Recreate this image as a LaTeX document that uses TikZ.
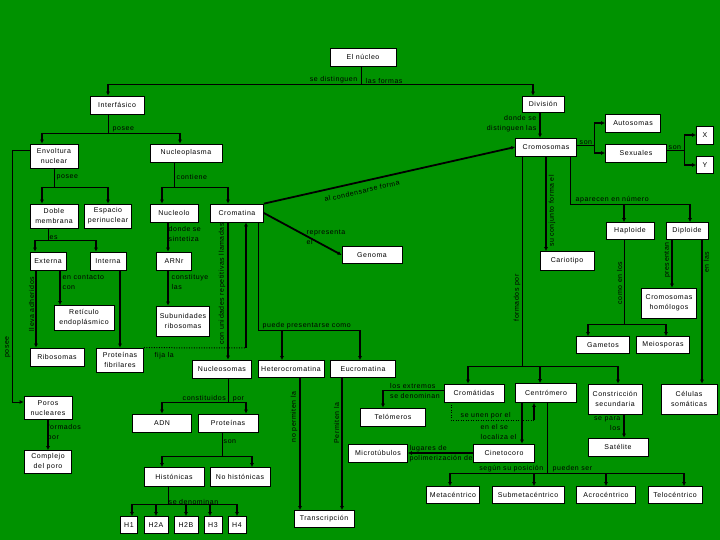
\documentclass[tikz,border=0pt]{standalone}
\usepackage{fontspec}
\setmainfont{Liberation Sans}[LetterSpace=8]
\usepackage{xcolor}
\usepackage{tikz}
\usetikzlibrary{arrows.meta}

\definecolor{fondo}{RGB}{0,146,0}
\tikzset{
  caja/.style={draw=black, fill=white, line width=0.7pt, align=center, inner sep=1pt, font=\fontsize{7}{10}\selectfont},
  tam/.style 2 args={minimum width=#1pt, minimum height=#2pt},
  etiq/.style={inner sep=0.5pt, align=left, font=\fontsize{7}{10}\selectfont},
  linea/.style={line width=0.8pt},
  flecha/.style={line width=1.8pt, -{Latex[length=4pt,width=4pt]}},
  punteado/.style={line width=1pt, dash pattern=on 1pt off 1.5pt},
}

\begin{document}
\begin{tikzpicture}[x=1pt, y=-1pt]
            \fill[fondo] (0,0) rectangle (720,540);
            \useasboundingbox (0,0) rectangle (720,540);

            % Interfase
            \node[caja, tam={66}{18}] (nucleo) at (363,57) {El núcleo};
            \node[caja, tam={54}{18}] (interf) at (117,105) {Interfásico};
            \node[caja, tam={48}{24}] (envol) at (54,156) {Envoltura\\nuclear};
            \node[caja, tam={72}{18}] (nucpl) at (186,153) {Nucleoplasma};
            \node[caja, tam={48}{24}] (doble) at (54,216) {Doble\\membrana};
            \node[caja, tam={47}{24}] (espac) at (108,216) {Espacio\\perinuclear};
            \node[caja, tam={36}{18}] (exter) at (48,261) {Externa};
            \node[caja, tam={36}{18}] (inter) at (108,261) {Interna};
            \node[caja, tam={60}{25}] (retic) at (84,318) {Retículo\\endoplásmico};
            \node[caja, tam={54}{18}] (ribos) at (57,357) {Ribosomas};
            \node[caja, tam={47}{24}] (protf) at (120,360) {Proteínas\\fibrilares};
            \node[caja, tam={48}{23}] (poros) at (48,408) {Poros\\nucleares};
            \node[caja, tam={47}{23}] (compl) at (48,462) {Complejo\\del poro};
            \node[caja, tam={48}{18}] (nucleolo) at (174,213) {Nucleolo};
            \node[caja, tam={53}{18}] (cromat) at (237,213) {Cromatina};
            \node[caja, tam={35}{18}] (arnr) at (174,261) {ARNr};
            \node[caja, tam={53}{30}] (subun) at (183,321) {Subunidades\\ribosomas};
            \node[caja, tam={59}{18}] (nucleos) at (222,369) {Nucleosomas};
            \node[caja, tam={66}{17}] (hetero) at (291,369) {Heterocromatina};
            \node[caja, tam={65}{17}] (eucro) at (363,369) {Eucromatina};
            \node[caja, tam={59}{18}] (adn) at (162,423) {ADN};
            \node[caja, tam={60}{18}] (protn) at (228,423) {Proteínas};
            \node[caja, tam={60}{19}] (histo) at (174,477) {Histónicas};
            \node[caja, tam={60}{19}] (nohis) at (240,477) {No histónicas};
            \node[caja, tam={17}{17}] (hUno) at (129,525) {H1};
            \node[caja, tam={24}{17}] (hDosA) at (156,525) {H2A};
            \node[caja, tam={24}{17}] (hDosB) at (186,525) {H2B};
            \node[caja, tam={18}{17}] (hTres) at (213,525) {H3};
            \node[caja, tam={18}{17}] (hCuatro) at (237,525) {H4};
            \node[caja, tam={60}{17}] (transc) at (324,519) {Transcripción};
            \node[caja, tam={60}{17}] (genoma) at (372,255) {Genoma};

            % Division
            \node[caja, tam={42}{16}] (divis) at (543,104) {División};
            \node[caja, tam={61}{18}] (cromos) at (546,147) {Cromosomas};
            \node[caja, tam={55}{18}] (autos) at (633,123) {Autosomas};
            \node[caja, tam={61}{18}] (sexua) at (636,153) {Sexuales};
            \node[caja, tam={17}{18}] (xcr) at (705,135) {X};
            \node[caja, tam={17}{17}] (ycr) at (705,165) {Y};
            \node[caja, tam={54}{19}] (cario) at (567,261) {Cariotipo};
            \node[caja, tam={48}{17}] (haplo) at (630,231) {Haploide};
            \node[caja, tam={42}{17}] (diplo) at (687,231) {Diploide};
            \node[caja, tam={53}{17}] (gamet) at (603,345) {Gametos};
            \node[caja, tam={53}{17}] (meios) at (663,345) {Meiosporas};
            \node[caja, tam={55}{30}] (homol) at (669,303) {Cromosomas\\homólogos};
            \node[caja, tam={60}{18}] (cromd) at (474,393) {Cromátidas};
            \node[caja, tam={61}{19}] (centr) at (546,393) {Centrómero};
            \node[caja, tam={54}{30}] (const) at (615,399) {Constricción\\secundaria};
            \node[caja, tam={56}{30}] (celul) at (689,399) {Células\\somáticas};
            \node[caja, tam={60}{18}] (satel) at (618,447) {Satélite};
            \node[caja, tam={65}{18}] (telom) at (393,417) {Telómeros};
            \node[caja, tam={59}{18}] (micro) at (378,453) {Microtúbulos};
            \node[caja, tam={61}{18}] (cinet) at (504,453) {Cinetocoro};
            \node[caja, tam={53}{17}] (meta) at (453,495) {Metacéntrico};
            \node[caja, tam={72}{17}] (subme) at (528,495) {Submetacéntrico};
            \node[caja, tam={59}{17}] (acro) at (606,495) {Acrocéntrico};
            \node[caja, tam={54}{17}] (telo) at (675,495) {Telocéntrico};

            % El nucleo -> formas
            \coordinate (cNuc) at (361,84);
            \coordinate (cInt) at (108,84);
            \coordinate (cDiv) at (533,84);
            \draw[linea] (cNuc |- nucleo.south) -- (cNuc);
            \draw[linea] (cInt) -- (cDiv);
            \draw[flecha] (cInt) -- (cInt |- interf.north);
            \draw[flecha] (cDiv) -- (cDiv |- divis.north);
            \node[etiq, anchor=south east] (lDist) at (358,84) {se distinguen};
            \node[etiq, anchor=south west] (lFor) at (365,84) {las formas};

            % Interfasico posee
            \coordinate (cPos) at (108,133);
            \coordinate (cEnv) at (42,133);
            \coordinate (cNpl) at (180,133);
            \draw[linea] (cPos |- interf.south) -- (cPos);
            \draw[linea] (cEnv) -- (cNpl);
            \draw[flecha] (cEnv) -- (cEnv |- envol.north);
            \draw[flecha] (cNpl) -- (cNpl |- nucpl.north);
            \node[etiq, anchor=south west] (lPos1) at (112,133) {posee};

            % Envoltura nuclear
            \coordinate (cEnv2) at (54,187);
            \coordinate (cDob) at (42,187);
            \coordinate (cEsp) at (108,187);
            \draw[linea] (cEnv2 |- envol.south) -- (cEnv2);
            \draw[linea] (cDob) -- (cEsp);
            \draw[flecha] (cDob) -- (cDob |- doble.north);
            \draw[flecha] (cEsp) -- (cEsp |- espac.north);
            \node[etiq, anchor=west] (lPos2) at (56,177) {posee};

            % poros
            \coordinate (cPo1) at (12,150);
            \coordinate (cPo2) at (12,402);
            \draw[linea, -{Latex[length=4pt,width=4pt]}] (cPo1 -| envol.west) -- (cPo1) -- (cPo2) -- (cPo2 -| poros.west);
            \node[etiq, rotate=90, anchor=south] (lPos3) at (11,347) {posee};
            \coordinate (cCom) at (48,420);
            \draw[flecha] (cCom |- poros.south) -- (cCom |- compl.north);
            \node[etiq, anchor=north west] (lForm1) at (47,424) {formados\\por};

            % Doble membrana
            \coordinate (cDob2) at (48,240);
            \coordinate (cExt) at (35,240);
            \coordinate (cInn) at (96,240);
            \draw[linea] (cDob2 |- doble.south) -- (cDob2);
            \draw[linea] (cExt) -- (cInn);
            \draw[flecha] (cExt) -- (cExt |- exter.north);
            \draw[flecha] (cInn) -- (cInn |- inter.north);
            \node[etiq, anchor=south west] (lEs) at (49,240) {es};

            % Externa e Interna
            \coordinate (cRib) at (36,270);
            \coordinate (cRet) at (60,270);
            \coordinate (cFib) at (120,270);
            \draw[flecha] (cRib |- exter.south) -- (cRib |- ribos.north);
            \draw[flecha] (cRet |- exter.south) -- (cRet |- retic.north);
            \draw[flecha] (cFib |- inter.south) -- (cFib |- protf.north);
            \node[etiq, rotate=90, anchor=south] (lAdh) at (35,304) {lleva adheridos};
            \node[etiq, anchor=north west] (lCont2) at (62,274) {en contacto\\con};

            % Nucleoplasma contiene
            \coordinate (cNpl2) at (174,187);
            \coordinate (cNcl) at (162,187);
            \coordinate (cCrm) at (228,187);
            \draw[linea] (cNpl2 |- nucpl.south) -- (cNpl2);
            \draw[linea] (cNcl) -- (cCrm);
            \draw[flecha] (cNcl) -- (cNcl |- nucleolo.north);
            \draw[flecha] (cCrm) -- (cCrm |- cromat.north);
            \node[etiq, anchor=west] (lCont) at (176,177) {contiene};

            % Nucleolo
            \coordinate (cArn) at (168,222);
            \draw[flecha] (cArn |- nucleolo.south) -- (cArn |- arnr.north);
            \draw[flecha] (cArn |- arnr.south) -- (cArn |- subun.north);
            \node[etiq, anchor=north west] (lSint) at (168,226) {donde se\\sintetiza};
            \node[etiq, anchor=north west] (lCons) at (171,274) {constituye\\las};

            % Cromatina
            \coordinate (cNsm) at (228,222);
            \draw[flecha] (cNsm |- cromat.south) -- (cNsm |- nucleos.north);
            \node[etiq, rotate=90, anchor=south] (lUnid) at (226,284) {con unidades repetitivas llamadas};
            \coordinate (cFij) at (246,348);
            \draw[punteado] (protf.north east) -- (cFij);
            \draw[flecha] (cFij) -- (cFij |- cromat.south);
            \node[etiq, anchor=west] (lFija) at (154,356) {fija la};
            \coordinate (cPre) at (258,330);
            \coordinate (cHet) at (282,330);
            \coordinate (cEuc) at (360,330);
            \draw[linea] (cPre |- cromat.south) -- (cPre) -- (cEuc);
            \draw[flecha] (cHet) -- (cHet |- hetero.north);
            \draw[flecha] (cEuc) -- (cEuc |- eucro.north);
            \node[etiq, anchor=south west] (lPres) at (262,330) {puede presentarse como};
            \draw[flecha] (cromat.east) -- (genoma.west);
            \node[etiq, anchor=north west] (lRepr) at (306,229) {representa\\el};
            \draw[flecha] (cromat.north east) -- (cromos.west);
            \node[etiq, rotate=12.7] (lCond) at (362,191) {al condensarse forma};

            % Hetero y eucromatina
            \coordinate (cTrH) at (300,378);
            \coordinate (cTrE) at (342,378);
            \draw[flecha] (cTrH |- hetero.south) -- (cTrH |- transc.north);
            \draw[flecha] (cTrE |- eucro.south) -- (cTrE |- transc.north);
            \node[etiq, rotate=90, anchor=south] (lNoPer) at (298,417) {no permiten la};
            \node[etiq, rotate=90, anchor=south] (lPerm) at (340,423) {Permiten la};

            % Nucleosomas
            \coordinate (cNuc2) at (228,402);
            \coordinate (cAdn) at (162,402);
            \coordinate (cPrt) at (246,402);
            \draw[linea] (cNuc2 |- nucleos.south) -- (cNuc2);
            \draw[linea] (cAdn) -- (cPrt);
            \draw[flecha] (cAdn) -- (cAdn |- adn.north);
            \draw[flecha] (cPrt) -- (cPrt |- protn.north);
            \node[etiq, anchor=south west] (lConst) at (182,403) {constituidos\quad por};

            % Proteinas son
            \coordinate (cPrt2) at (222,456);
            \coordinate (cHis) at (162,456);
            \coordinate (cNoh) at (252,456);
            \draw[linea] (cPrt2 |- protn.south) -- (cPrt2);
            \draw[linea] (cHis) -- (cNoh);
            \draw[flecha] (cHis) -- (cHis |- histo.north);
            \draw[flecha] (cNoh) -- (cNoh |- nohis.north);
            \node[etiq, anchor=west] (lSon3) at (223,442) {son};

            % Histonicas
            \coordinate (cHis2) at (168,504);
            \coordinate (cHa) at (132,504);
            \coordinate (cHb) at (156,504);
            \coordinate (cHc) at (186,504);
            \coordinate (cHd) at (210,504);
            \coordinate (cHe) at (237,504);
            \draw[linea] (cHis2 |- histo.south) -- (cHis2);
            \draw[linea] (cHa) -- (cHe);
            \draw[flecha] (cHa) -- (cHa |- hUno.north);
            \draw[flecha] (cHb) -- (cHb |- hDosA.north);
            \draw[flecha] (cHc) -- (cHc |- hDosB.north);
            \draw[flecha] (cHd) -- (cHd |- hTres.north);
            \draw[flecha] (cHe) -- (cHe |- hCuatro.north);
            \node[etiq, anchor=south west] (lDenom) at (168,505) {se denominan};

            % Division -> cromosomas
            \coordinate (cCro) at (540,112);
            \draw[flecha] (cCro |- divis.south) -- (cCro |- cromos.north);
            \node[etiq, anchor=north east, align=right] (lDonde) at (537,115) {donde se\\distinguen las};

            % Cromosomas son
            \coordinate (cSon) at (594,145);
            \coordinate (cAut) at (594,123);
            \coordinate (cSex) at (594,153);
            \draw[linea] (cSon -| cromos.east) -- (cSon);
            \draw[linea] (cAut) -- (cSex);
            \draw[flecha] (cAut) -- (autos.west);
            \draw[flecha] (cSex) -- (sexua.west);
            \node[etiq, anchor=south west] (lSon1) at (579,145) {son};
            \coordinate (cSon2) at (684,150);
            \coordinate (cX) at (684,135);
            \coordinate (cY) at (684,165);
            \draw[linea] (cSon2 -| sexua.east) -- (cSon2);
            \draw[linea] (cX) -- (cY);
            \draw[flecha] (cX) -- (xcr.west);
            \draw[flecha] (cY) -- (ycr.west);
            \node[etiq, anchor=south west] (lSon2) at (668,150) {son};

            % Cariotipo
            \coordinate (cCar) at (546,156);
            \draw[flecha] (cCar |- cromos.south) -- (cCar |- cario.north);
            \node[etiq, rotate=90, anchor=north] (lConj) at (548,211) {su conjunto forma el};

            % Numero
            \coordinate (cNum) at (570,204);
            \coordinate (cHap) at (624,204);
            \coordinate (cDip) at (690,204);
            \draw[linea] (cNum |- cromos.south) -- (cNum) -- (cDip);
            \draw[flecha] (cHap) -- (cHap |- haplo.north);
            \draw[flecha] (cDip) -- (cDip |- diplo.north);
            \node[etiq, anchor=south west] (lApar) at (575,204) {aparecen en número};

            % Haploide y diploide
            \coordinate (cHap2) at (624,324);
            \coordinate (cGam) at (588,324);
            \coordinate (cMei) at (666,324);
            \draw[linea] (cHap2 |- haplo.south) -- (cHap2);
            \draw[linea] (cGam) -- (cMei);
            \draw[flecha] (cGam) -- (cGam |- gamet.north);
            \draw[flecha] (cMei) -- (cMei |- meios.north);
            \node[etiq, rotate=90, anchor=south] (lComo) at (623,283) {como en los};
            \coordinate (cHom) at (672,240);
            \coordinate (cCel) at (702,240);
            \draw[flecha] (cHom |- diplo.south) -- (cHom |- homol.north);
            \draw[flecha] (cCel |- diplo.south) -- (cCel |- celul.north);
            \node[etiq, rotate=90, anchor=south] (lPresen) at (671,260) {presentan};
            \node[etiq, rotate=90, anchor=north] (lEnlas) at (703,262) {en las};

            % Formados por
            \coordinate (cFor) at (522,366);
            \coordinate (cCtd) at (468,366);
            \coordinate (cCen) at (540,366);
            \coordinate (cCst) at (618,366);
            \draw[linea] (cFor |- cromos.south) -- (cFor);
            \draw[linea] (cCtd) -- (cCst);
            \draw[flecha] (cCtd) -- (cCtd |- cromd.north);
            \draw[flecha] (cCen) -- (cCen |- centr.north);
            \draw[flecha] (cCst) -- (cCst |- const.north);
            \node[etiq, rotate=90, anchor=south] (lForm2) at (521,298) {formados por};

            % Constriccion
            \coordinate (cSat) at (624,414);
            \draw[flecha] (cSat |- const.south) -- (cSat |- satel.north);
            \node[etiq, anchor=north east, align=right] (lSepara) at (621,416) {se para\\los};

            % Cromatidas
            \coordinate (cExtr) at (383,390);
            \draw[linea] (cExtr -| cromd.west) -- (cExtr);
            \draw[flecha] (cExtr) -- (cExtr |- telom.north);
            \node[etiq] (lExtr) at (415,391) {los extremos\\se denominan};
            \coordinate (cUn1) at (451,420);
            \coordinate (cUn2) at (534,420);
            \draw[punteado] (cUn1 |- cromd.south) -- (cUn1) -- (cUn2);
            \draw[flecha] (cUn2) -- (cUn2 |- centr.south);
            \node[etiq, anchor=south west] (lUnen) at (460,420) {se unen por el};

            % Centromero
            \coordinate (cCin) at (522,403);
            \draw[flecha] (cCin |- centr.south) -- (cCin |- cinet.north);
            \node[etiq, anchor=north west] (lLoca) at (480,424) {en el se\\localiza el};
            \draw[flecha] (cinet.west) -- (micro.east);
            \node[etiq] (lPolim) at (441,454) {lugares de\\polimerización de};
            \coordinate (cSeg) at (547,473);
            \coordinate (cMet) at (450,473);
            \coordinate (cSub) at (534,473);
            \coordinate (cAcr) at (606,473);
            \coordinate (cTel) at (684,473);
            \draw[linea] (cSeg |- centr.south) -- (cSeg);
            \draw[linea] (cMet) -- (cTel);
            \draw[flecha] (cMet) -- (cMet |- meta.north);
            \draw[flecha] (cSub) -- (cSub |- subme.north);
            \draw[flecha] (cAcr) -- (cAcr |- acro.north);
            \draw[flecha] (cTel) -- (cTel |- telo.north);
            \node[etiq, anchor=south east] (lSegun) at (544,473) {según su posición};
            \node[etiq, anchor=south west] (lPued) at (552,473) {pueden ser};
\end{tikzpicture}
\end{document}
